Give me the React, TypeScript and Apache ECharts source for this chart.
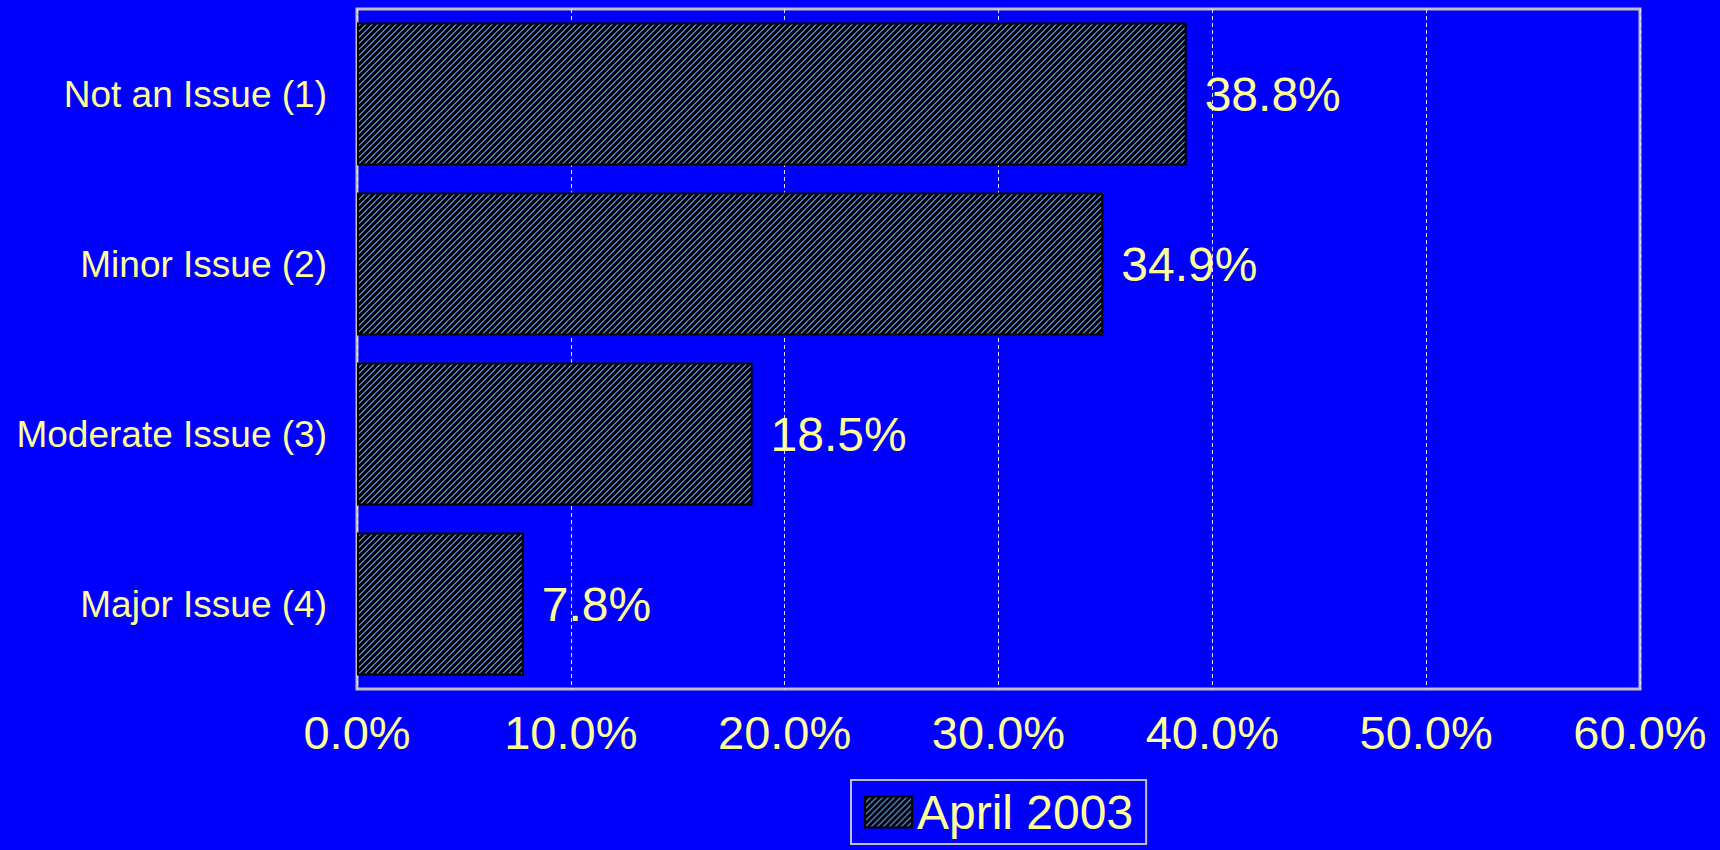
import React, { useEffect, useRef } from "react";
import * as echarts from "echarts";

const categories = ["Not an Issue (1)", "Minor Issue (2)", "Moderate Issue (3)", "Major Issue (4)"];
const values = [38.8, 34.9, 18.5, 7.8];
const seriesName = "April 2003";
const axisMin = 0;
const axisMax = 60;
const axisStep = 10;

const YELLOW = "#FFFF99";
const BG = "#0000FF";
const GRAY = "#C0C0C0";
const FONT = "'Liberation Sans', Arial, sans-serif";

function makeHatch(): HTMLCanvasElement {
  const n = 6;
  const c = document.createElement("canvas");
  c.width = n;
  c.height = n;
  const ctx = c.getContext("2d")!;
  ctx.fillStyle = "#000000";
  ctx.fillRect(0, 0, n, n);
  ctx.fillStyle = "#4A7FC8";
  for (let x = 0; x < n; x++) {
    const y = n - 1 - x;
    ctx.fillRect(x, y, 1, 1);
    ctx.fillRect((x + 1) % n, y, 1, 1);
  }
  return c;
}

export default function App() {
  const ref = useRef<HTMLDivElement>(null);
  useEffect(() => {
    document.body.style.margin = "0";
    if (!ref.current) return;
    const chart = echarts.init(ref.current, undefined, { renderer: "svg" });
    const hatch = { image: makeHatch(), repeat: "repeat" } as any;
    chart.setOption({
      animation: false,
      backgroundColor: BG,
      textStyle: { fontFamily: FONT },
      grid: {
        left: 357,
        top: 9,
        width: 1283,
        height: 680,
        show: true,
        borderColor: GRAY,
        borderWidth: 3,
        backgroundColor: "transparent",
        containLabel: false,
      },
      legend: {
        show: true,
        left: 851,
        top: 780,
        padding: [8, 13, 8, 13],
        borderColor: GRAY,
        borderWidth: 2,
        itemWidth: 47,
        itemHeight: 31,
        itemGap: 6,
        icon: "rect",
        textStyle: { color: YELLOW, fontSize: 48, fontFamily: FONT },
        data: [seriesName],
      },
      xAxis: {
        type: "value",
        min: axisMin,
        max: axisMax,
        interval: axisStep,
        axisLine: { show: false },
        axisTick: { show: false },
        axisLabel: {
          color: YELLOW,
          fontSize: 47,
          fontFamily: FONT,
          margin: 20,
          formatter: (v: number) => v.toFixed(1) + "%",
        },
        splitLine: {
          show: true,
          lineStyle: { color: "#E0E0FF", width: 1, type: [4, 3] },
        },
      },
      yAxis: {
        type: "category",
        inverse: true,
        data: categories,
        axisLine: { show: false },
        axisTick: { show: false },
        axisLabel: {
          color: YELLOW,
          fontSize: 37,
          fontFamily: FONT,
          margin: 30,
        },
      },
      series: [
        {
          name: seriesName,
          type: "bar",
          data: values,
          barWidth: 143,
          itemStyle: { color: hatch, borderColor: "#000000", borderWidth: 2 },
          label: {
            show: true,
            position: "right",
            distance: 18,
            color: YELLOW,
            fontSize: 48,
            fontFamily: FONT,
            formatter: (p: any) => Number(p.value).toFixed(1) + "%",
          },
        },
      ],
    });
    return () => chart.dispose();
  }, []);
  return <div ref={ref} style={{ width: 1720, height: 850 }} />;
}
